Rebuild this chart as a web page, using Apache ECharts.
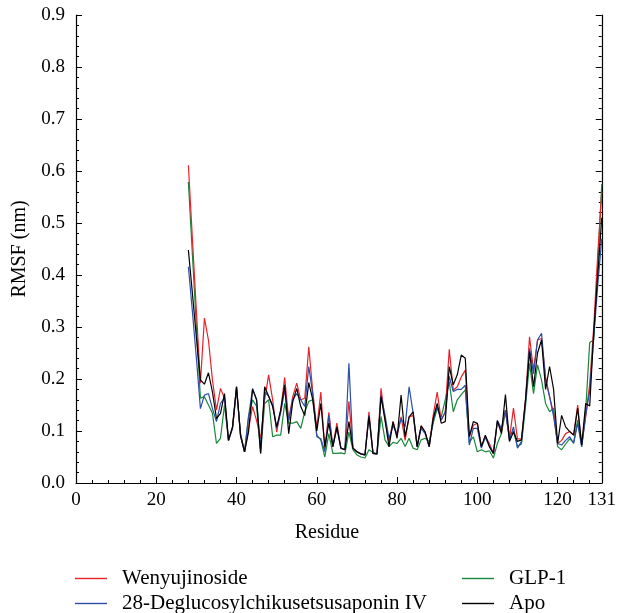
<!DOCTYPE html>
<html><head><meta charset="utf-8">
<script src="https://cdn.jsdelivr.net/npm/echarts@6/dist/echarts.min.js"></script>
<style>html,body{margin:0;padding:0;background:#fff}#c{width:619px;height:613px}</style>
</head><body><div id="c"></div>
<script>
const residues = [28,29,30,31,32,33,34,35,36,37,38,39,40,41,42,43,44,45,46,47,48,49,50,51,52,53,54,55,56,57,58,59,60,61,62,63,64,65,66,67,68,69,70,71,72,73,74,75,76,77,78,79,80,81,82,83,84,85,86,87,88,89,90,91,92,93,94,95,96,97,98,99,100,101,102,103,104,105,106,107,108,109,110,111,112,113,114,115,116,117,118,119,120,121,122,123,124,125,126,127,128,129,130,131];

const wenyujinoside = [0.611,0.47,0.33,0.192,0.317,0.275,0.198,0.14,0.182,0.163,0.082,0.108,0.185,0.09,0.06,0.105,0.147,0.12,0.085,0.16,0.208,0.16,0.098,0.14,0.203,0.121,0.166,0.192,0.16,0.163,0.262,0.175,0.105,0.175,0.065,0.136,0.07,0.115,0.067,0.064,0.157,0.067,0.06,0.056,0.054,0.137,0.057,0.056,0.182,0.121,0.08,0.118,0.09,0.127,0.082,0.127,0.13,0.07,0.11,0.098,0.07,0.13,0.175,0.121,0.136,0.257,0.179,0.185,0.204,0.217,0.089,0.111,0.115,0.07,0.09,0.076,0.057,0.118,0.1,0.14,0.085,0.144,0.085,0.085,0.16,0.281,0.217,0.275,0.278,0.204,0.166,0.134,0.076,0.082,0.095,0.099,0.092,0.15,0.073,0.128,0.19,0.3,0.44,0.56];

const deglucosyl = [0.416,0.33,0.24,0.143,0.169,0.172,0.143,0.118,0.153,0.163,0.082,0.105,0.185,0.09,0.06,0.128,0.182,0.16,0.065,0.175,0.167,0.15,0.105,0.135,0.179,0.121,0.16,0.172,0.16,0.147,0.224,0.17,0.089,0.085,0.06,0.13,0.07,0.105,0.067,0.064,0.23,0.067,0.06,0.056,0.054,0.13,0.057,0.056,0.169,0.13,0.085,0.11,0.095,0.124,0.108,0.185,0.135,0.07,0.105,0.095,0.07,0.12,0.147,0.121,0.136,0.205,0.176,0.18,0.18,0.188,0.073,0.105,0.105,0.067,0.088,0.07,0.057,0.12,0.105,0.14,0.082,0.108,0.067,0.08,0.155,0.259,0.21,0.275,0.288,0.198,0.166,0.128,0.076,0.073,0.082,0.089,0.076,0.115,0.07,0.13,0.178,0.28,0.38,0.47];

const glp1 = [0.579,0.44,0.3,0.163,0.166,0.15,0.134,0.076,0.086,0.15,0.082,0.105,0.179,0.095,0.06,0.128,0.16,0.147,0.057,0.153,0.16,0.089,0.092,0.092,0.153,0.115,0.115,0.118,0.105,0.137,0.157,0.16,0.092,0.083,0.05,0.095,0.057,0.057,0.058,0.056,0.098,0.064,0.054,0.05,0.048,0.064,0.059,0.056,0.128,0.083,0.07,0.078,0.076,0.086,0.07,0.086,0.067,0.064,0.083,0.086,0.08,0.115,0.143,0.127,0.16,0.195,0.137,0.16,0.17,0.179,0.078,0.089,0.06,0.064,0.06,0.062,0.048,0.076,0.095,0.137,0.092,0.1,0.07,0.075,0.147,0.23,0.172,0.227,0.198,0.153,0.137,0.144,0.07,0.064,0.075,0.085,0.078,0.121,0.07,0.14,0.27,0.275,0.42,0.575];

const apo = [0.448,0.365,0.28,0.198,0.19,0.212,0.175,0.124,0.134,0.172,0.082,0.108,0.185,0.092,0.06,0.099,0.18,0.16,0.057,0.185,0.167,0.147,0.108,0.14,0.189,0.095,0.156,0.182,0.147,0.13,0.193,0.16,0.1,0.153,0.07,0.115,0.07,0.108,0.067,0.064,0.118,0.067,0.06,0.056,0.054,0.128,0.057,0.056,0.166,0.121,0.07,0.118,0.086,0.169,0.089,0.127,0.137,0.07,0.11,0.098,0.07,0.124,0.153,0.115,0.118,0.224,0.189,0.208,0.246,0.24,0.089,0.118,0.115,0.07,0.092,0.07,0.057,0.12,0.095,0.17,0.08,0.098,0.08,0.083,0.16,0.253,0.185,0.25,0.275,0.18,0.224,0.18,0.076,0.13,0.108,0.099,0.092,0.144,0.073,0.153,0.148,0.29,0.4,0.51];

const seriesNames = ['Wenyujinoside','28-Deglucosylchikusetsusaponin IV','GLP-1','Apo'];
const seriesColors = ['#e8222b','#2b4ea6','#16883a','#000000'];

const FONT = '"Liberation Serif", "DejaVu Serif", serif';
const pair = vals => residues.map((r, i) => [r, vals[i]]);

const axisCommon = {
  axisLine: { show: true, lineStyle: { color: '#000', width: 1.2 } },
  axisTick: { show: true, inside: true, length: 6, lineStyle: { color: '#000' } },
  minorTick: { show: true, splitNumber: 5, length: 3, lineStyle: { color: '#000' } },
  splitLine: { show: false }
};

const legendPos = [[70, 563], [70, 588], [457, 563], [457, 588]];
const legends = seriesNames.map((n, i) => ({
  data: [n], left: legendPos[i][0], top: legendPos[i][1],
  icon: 'rect', itemWidth: 32, itemHeight: 1.4,
  textStyle: { color: '#000', fontFamily: FONT, fontSize: 21, padding: [0, 0, 0, 10] }
}));

const chart = echarts.init(document.getElementById('c'), null, { renderer: 'canvas' });
chart.setOption({
  animation: false,
  backgroundColor: '#fff',
  grid: { left: 76, right: 14, top: 15, bottom: 130, containLabel: false },
  xAxis: Object.assign({}, axisCommon, {
    type: 'value', min: 0, max: 131, interval: 20,
    name: 'Residue', nameLocation: 'middle', nameGap: 40,
    nameTextStyle: { color: '#000', fontFamily: FONT, fontSize: 20, padding: [0, 24, 0, 0] },
    axisLabel: { color: '#000', fontFamily: FONT, fontSize: 19, margin: 8 }
  }),
  yAxis: [
    Object.assign({}, axisCommon, {
      type: 'value', min: 0, max: 0.9, interval: 0.1, position: 'left',
      name: 'RMSF (nm)', nameLocation: 'middle', nameGap: 46, nameRotate: 90,
      nameTextStyle: { color: '#000', fontFamily: FONT, fontSize: 20 },
      axisLabel: { color: '#000', fontFamily: FONT, fontSize: 19, margin: 11, formatter: v => v.toFixed(1) }
    }),
    Object.assign({}, axisCommon, {
      type: 'value', min: 0, max: 0.9, interval: 0.1, position: 'right',
      axisLabel: { show: false }
    })
  ],
  legend: legends,
  series: [
    { name: seriesNames[2], data: pair(glp1), color: seriesColors[2], z: 2 },
    { name: seriesNames[0], data: pair(wenyujinoside), color: seriesColors[0], z: 3 },
    { name: seriesNames[1], data: pair(deglucosyl), color: seriesColors[1], z: 4 },
    { name: seriesNames[3], data: pair(apo), color: seriesColors[3], z: 5 }
  ].map(s => Object.assign({ type: 'line', symbol: 'none', showSymbol: false,
      lineStyle: { width: 1.2 }, emphasis: { disabled: true } }, s))
});
</script></body></html>
